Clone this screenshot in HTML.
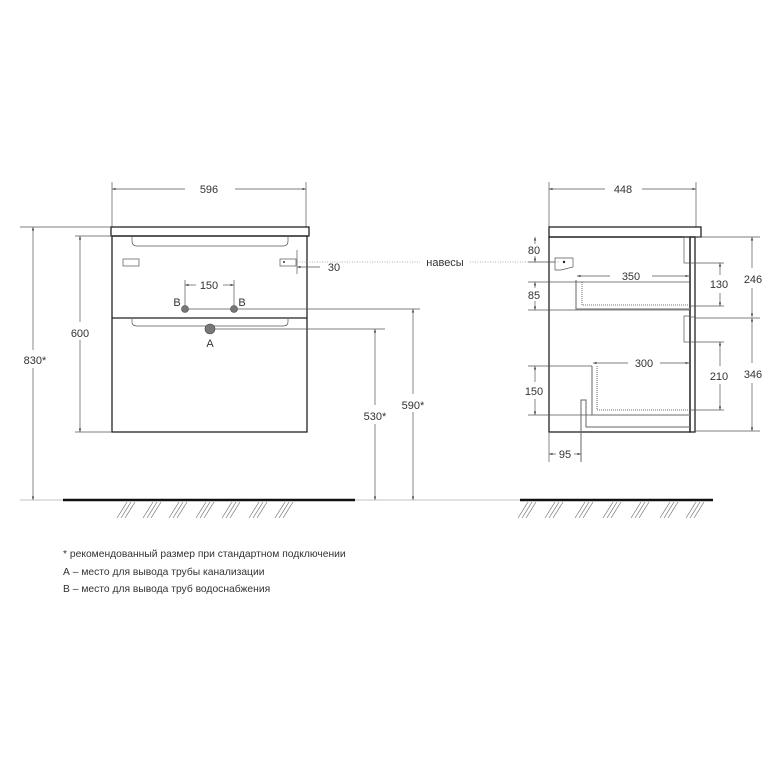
<!DOCTYPE html>
<html><head><meta charset="utf-8"><style>
html,body{margin:0;padding:0;background:#fff;}
svg{display:block;font-family:"Liberation Sans","DejaVu Sans",sans-serif;}
.d{stroke:#555;stroke-width:0.7;fill:none}
.t{font-size:11px;fill:#333;text-anchor:middle}
.o{stroke:#222;stroke-width:1.3;fill:none}
.h{stroke:#777;stroke-width:0.7}
</style></head><body>
<svg width="776" height="776" viewBox="0 0 776 776" xmlns="http://www.w3.org/2000/svg">
<defs>
<marker id="a" viewBox="0 0 6 6" refX="6" refY="3" markerWidth="5" markerHeight="5" orient="auto-start-reverse"><path d="M0,1 L6,3 L0,5z" fill="#444"/></marker>
<g id="hg"><line x1="0" y1="518" x2="10" y2="502" class="h"/><line x1="4" y1="518" x2="14" y2="502" class="h"/><line x1="8" y1="518" x2="18" y2="502" class="h"/></g>
</defs>

<!-- FRONT VIEW -->
<line x1="112" y1="182" x2="112" y2="227" class="d"/>
<line x1="306" y1="182" x2="306" y2="227" class="d"/>
<line x1="112" y1="189" x2="185" y2="189" class="d" marker-start="url(#a)"/>
<line x1="235" y1="189" x2="306" y2="189" class="d" marker-end="url(#a)"/>
<text x="209" y="193" class="t">596</text>
<rect x="111" y="227" width="198" height="9" class="o"/>
<rect x="112" y="236" width="195" height="196" class="o"/>
<line x1="112" y1="318" x2="307" y2="318" class="o"/>
<path d="M132,237 v4 q0,5 5,5 h146 q5,0 5,-5 v-4" class="d" stroke="#666"/>
<path d="M132,319 v3 q0,4 5,4 h146 q5,0 5,-4 v-3" class="d" stroke="#666"/>
<rect x="123" y="259" width="16" height="7" class="d"/>
<rect x="280" y="259" width="16" height="7" class="d"/>
<circle cx="284" cy="262" r="1" fill="#333"/>
<line x1="297" y1="250" x2="297" y2="274" class="d"/>
<line x1="320" y1="267" x2="297" y2="267" class="d" marker-end="url(#a)"/>
<text x="334" y="271" class="t">30</text>
<line x1="297" y1="262" x2="420" y2="262" stroke="#999" stroke-width="0.8" stroke-dasharray="1,1.5"/>
<line x1="470" y1="262" x2="560" y2="262" stroke="#999" stroke-width="0.8" stroke-dasharray="1,1.5"/>
<text x="445" y="266" class="t">навесы</text>
<line x1="185" y1="280" x2="185" y2="309" class="d"/>
<line x1="234" y1="280" x2="234" y2="309" class="d"/>
<line x1="185" y1="285" x2="196" y2="285" class="d" marker-start="url(#a)"/>
<line x1="223" y1="285" x2="234" y2="285" class="d" marker-end="url(#a)"/>
<text x="209" y="289" class="t">150</text>
<text x="177" y="306" class="t">B</text>
<text x="242" y="306" class="t">B</text>
<line x1="185" y1="309" x2="420" y2="309" class="d"/>
<circle cx="185" cy="309" r="3.5" fill="#777" stroke="#444" stroke-width="0.6"/>
<circle cx="234" cy="309" r="3.5" fill="#777" stroke="#444" stroke-width="0.6"/>
<line x1="210" y1="329" x2="385" y2="329" class="d"/>
<circle cx="210" cy="329" r="5" fill="#777" stroke="#444" stroke-width="0.6"/>
<text x="210" y="347" class="t">A</text>
<line x1="75" y1="236" x2="112" y2="236" class="d"/>
<line x1="75" y1="432" x2="112" y2="432" class="d"/>
<line x1="80" y1="236" x2="80" y2="322" class="d" marker-start="url(#a)"/>
<line x1="80" y1="340" x2="80" y2="432" class="d" marker-end="url(#a)"/>
<text x="80" y="337" class="t">600</text>
<line x1="20" y1="227" x2="111" y2="227" class="d"/>
<line x1="33" y1="227" x2="33" y2="350" class="d" marker-start="url(#a)"/>
<line x1="33" y1="368" x2="33" y2="500" class="d" marker-end="url(#a)"/>
<text x="35" y="364" class="t">830*</text>
<line x1="375" y1="329" x2="375" y2="405" class="d" marker-start="url(#a)"/>
<line x1="375" y1="424" x2="375" y2="500" class="d" marker-end="url(#a)"/>
<text x="375" y="420" class="t">530*</text>
<line x1="413" y1="309" x2="413" y2="394" class="d" marker-start="url(#a)"/>
<line x1="413" y1="412" x2="413" y2="500" class="d" marker-end="url(#a)"/>
<text x="413" y="409" class="t">590*</text>
<line x1="20" y1="500" x2="520" y2="500" stroke="#888" stroke-width="0.6"/>
<line x1="63" y1="500" x2="355" y2="500" stroke="#111" stroke-width="2.5"/>
<use href="#hg" x="117"/><use href="#hg" x="143"/><use href="#hg" x="169"/><use href="#hg" x="196"/><use href="#hg" x="222"/><use href="#hg" x="249"/><use href="#hg" x="275"/>

<!-- SIDE VIEW -->
<line x1="549" y1="182" x2="549" y2="227" class="d"/>
<line x1="696" y1="182" x2="696" y2="227" class="d"/>
<line x1="549" y1="189" x2="605" y2="189" class="d" marker-start="url(#a)"/>
<line x1="642" y1="189" x2="696" y2="189" class="d" marker-end="url(#a)"/>
<text x="623" y="193" class="t">448</text>
<rect x="549" y="227" width="152" height="10" class="o"/>
<rect x="549" y="237" width="141" height="195" class="o"/>
<rect x="690" y="237" width="5" height="195" class="o" stroke-width="1"/>
<line x1="690" y1="317" x2="695" y2="317" class="d"/>
<path d="M690,237 h-6 v26 h6" class="d"/>
<path d="M690,316 h-6 v26 h6" class="d"/>
<path d="M555,258 h18 v9 l-12,3 h-6z" class="d"/>
<circle cx="564" cy="262" r="1.2" fill="#222"/>
<path d="M576,280 v29 h114" stroke="#888" stroke-width="1.3" fill="none"/>
<path d="M582,282 v23 h107" stroke="#444" stroke-width="0.8" fill="none" stroke-dasharray="1,1"/>
<line x1="528" y1="282" x2="690" y2="282" class="d"/>
<line x1="528" y1="310" x2="690" y2="310" class="d"/>
<line x1="577" y1="276" x2="610" y2="276" class="d" marker-start="url(#a)"/>
<line x1="652" y1="276" x2="689" y2="276" class="d" marker-end="url(#a)"/>
<text x="631" y="280" class="t">350</text>
<line x1="528" y1="262" x2="555" y2="262" class="d"/>
<line x1="535" y1="237" x2="535" y2="244" class="d" marker-start="url(#a)"/>
<line x1="535" y1="256" x2="535" y2="262" class="d" marker-end="url(#a)"/>
<text x="534" y="254" class="t">80</text>
<line x1="535" y1="282" x2="535" y2="288" class="d" marker-start="url(#a)"/>
<line x1="535" y1="301" x2="535" y2="310" class="d" marker-end="url(#a)"/>
<text x="534" y="299" class="t">85</text>
<path d="M592,366 v49 h98" stroke="#888" stroke-width="1.3" fill="none"/>
<path d="M597,366 v44 h92" stroke="#444" stroke-width="0.8" fill="none" stroke-dasharray="1,1"/>
<line x1="593" y1="363" x2="628" y2="363" class="d" marker-start="url(#a)"/>
<line x1="660" y1="363" x2="689" y2="363" class="d" marker-end="url(#a)"/>
<text x="644" y="367" class="t">300</text>
<line x1="528" y1="366" x2="592" y2="366" class="d"/>
<line x1="528" y1="415" x2="592" y2="415" class="d"/>
<line x1="535" y1="366" x2="535" y2="382" class="d" marker-start="url(#a)"/>
<line x1="535" y1="399" x2="535" y2="415" class="d" marker-end="url(#a)"/>
<text x="534" y="395" class="t">150</text>
<path d="M581,462 v-62 h5 v27 h104" stroke="#666" stroke-width="1" fill="none"/>
<line x1="549" y1="432" x2="549" y2="462" class="d"/>
<line x1="549" y1="454" x2="556" y2="454" class="d" marker-start="url(#a)"/>
<line x1="574" y1="454" x2="581" y2="454" class="d" marker-end="url(#a)"/>
<text x="565" y="458" class="t">95</text>
<line x1="690" y1="263" x2="724" y2="263" class="d"/>
<line x1="690" y1="306" x2="724" y2="306" class="d"/>
<line x1="690" y1="342" x2="724" y2="342" class="d"/>
<line x1="690" y1="410" x2="724" y2="410" class="d"/>
<line x1="695" y1="237" x2="760" y2="237" class="d"/>
<line x1="695" y1="318" x2="760" y2="318" class="d"/>
<line x1="695" y1="431" x2="760" y2="431" class="d"/>
<line x1="720" y1="263" x2="720" y2="275" class="d" marker-start="url(#a)"/>
<line x1="720" y1="293" x2="720" y2="306" class="d" marker-end="url(#a)"/>
<text x="719" y="288" class="t">130</text>
<line x1="720" y1="342" x2="720" y2="366" class="d" marker-start="url(#a)"/>
<line x1="720" y1="384" x2="720" y2="410" class="d" marker-end="url(#a)"/>
<text x="719" y="380" class="t">210</text>
<line x1="752" y1="237" x2="752" y2="268" class="d" marker-start="url(#a)"/>
<line x1="752" y1="288" x2="752" y2="317" class="d" marker-end="url(#a)"/>
<text x="753" y="283" class="t">246</text>
<line x1="752" y1="318" x2="752" y2="363" class="d" marker-start="url(#a)"/>
<line x1="752" y1="383" x2="752" y2="431" class="d" marker-end="url(#a)"/>
<text x="753" y="378" class="t">346</text>
<line x1="520" y1="500" x2="713" y2="500" stroke="#111" stroke-width="2.5"/>
<use href="#hg" x="518"/><use href="#hg" x="545"/><use href="#hg" x="575"/><use href="#hg" x="603"/><use href="#hg" x="631"/><use href="#hg" x="660"/><use href="#hg" x="686"/>

<g font-size="10.3" fill="#333">
<text x="63" y="557">* рекомендованный размер при стандартном подключении</text>
<text x="63" y="575">А – место для вывода трубы канализации</text>
<text x="63" y="592">В – место для вывода труб водоснабжения</text>
</g>
</svg>
</body></html>
